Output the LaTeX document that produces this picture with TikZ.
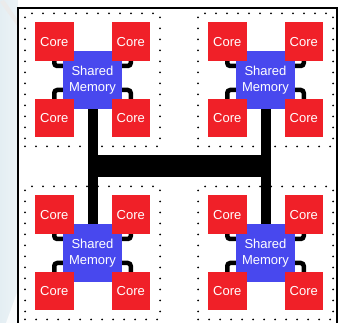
\documentclass[tikz,border=0pt]{standalone}
\usepackage{fontspec}
\setmainfont{Liberation Sans}
\usetikzlibrary{calc}
\definecolor{corered}{RGB}{240,32,40}
\definecolor{memblue}{RGB}{72,72,238}
\definecolor{sidebg}{RGB}{228,238,243}
\pgfdeclarelayer{back}
\pgfdeclarelayer{mid}
\pgfsetlayers{back,mid,main}
\tikzset{
  corebox/.style={rectangle, fill=corered, minimum size=38.5pt, inner sep=0pt,
    text=white, font=\fontsize{13}{14}\selectfont},
  membox/.style={rectangle, fill=memblue, minimum size=58.5pt, inner sep=0pt,
    text=white, align=center, font=\fontsize{13}{15.5}\selectfont},
  dotbox/.style={rectangle, draw=black, line width=2pt, dash pattern=on 0pt off 11pt,
    line cap=round, minimum width=135pt, minimum height=133pt, inner sep=0pt},
  conn/.style={draw=black, line width=4.5pt, rounded corners=3pt},
  busv/.style={draw=black, line width=10pt},
  bush/.style={draw=black, line width=22pt},
}
\begin{document}
\begin{tikzpicture}[x=1pt,y=-1pt]
\useasboundingbox (0,0) rectangle (343,323);
\clip (0,0) rectangle (343,323);
\begin{pgfonlayer}{back}
  \fill[white] (0,0) rectangle (343,323);
  \fill[left color=sidebg, right color=sidebg!70!white] (0,0) rectangle (18,323);
  \fill[black!8] (0,2) -- (4,0) -- (18,20) -- (18,27) -- cycle;
  \fill[white!80!sidebg] (18,290) -- (18,323) -- (6,323) -- cycle;
  \fill[white] (18,0) rectangle (343,8);
  \draw[line width=1.5pt] (18,8) rectangle (337,335);
\end{pgfonlayer}
\foreach \g/\dx/\dy in {1/0/0,2/173/0,3/0/173,4/173/173}{
  \begin{scope}[shift={(\dx,\dy)}]
    \node[membox] (m\g) at (92.5,80) {Shared\\Memory};
    \node[corebox] (c\g a) at (54.25,41.75) {Core};
    \node[corebox] (c\g b) at (130.75,41.75) {Core};
    \node[corebox] (c\g c) at (54.25,118.25) {Core};
    \node[corebox] (c\g d) at (130.75,118.25) {Core};
    \begin{pgfonlayer}{back}
      \node[dotbox] (d\g) at (m\g.center) {};
    \end{pgfonlayer}
  \end{scope}
  \begin{pgfonlayer}{mid}
    \draw[conn] (c\g a.south) |- ([yshift=14pt]m\g.west);
    \draw[conn] (c\g b.south) |- ([yshift=14pt]m\g.east);
    \draw[conn] ([yshift=-10pt]m\g.west) -| (c\g c.north);
    \draw[conn] ([yshift=-10pt]m\g.east) -| (c\g d.north);
  \end{pgfonlayer}
}
\begin{pgfonlayer}{mid}
  \coordinate (hl) at ($(m1.south)!0.5!(m3.north)$);
  \coordinate (hr) at ($(m2.south)!0.5!(m4.north)$);
  \draw[busv] (m1.south) -- (m3.north);
  \draw[busv] (m2.south) -- (m4.north);
  \draw[bush] (hl) -- (hr);
\end{pgfonlayer}
\end{tikzpicture}
\end{document}
